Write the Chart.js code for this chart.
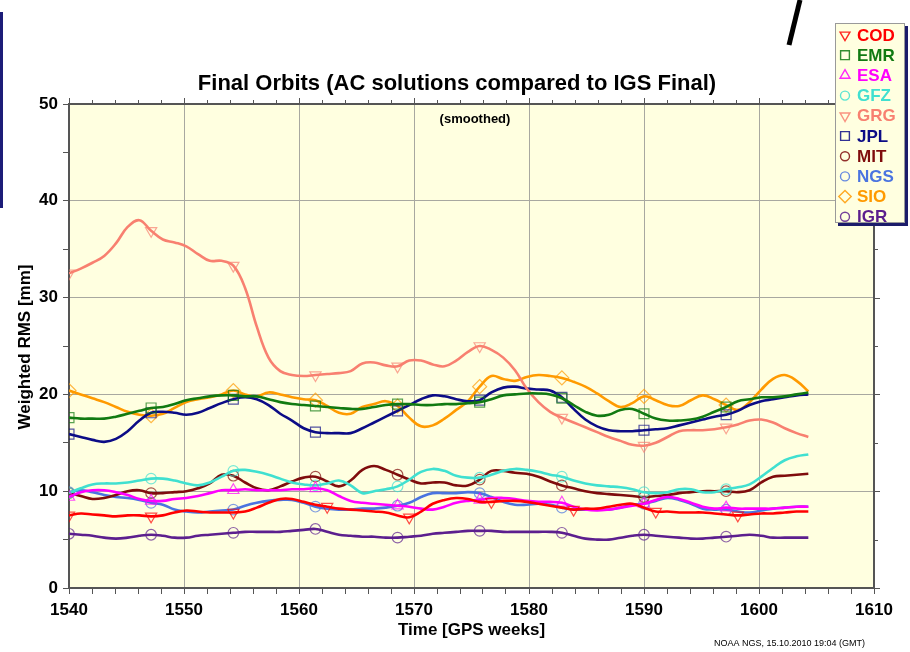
<!DOCTYPE html>
<html>
<head>
<meta charset="utf-8">
<script src="https://cdn.jsdelivr.net/npm/chart.js@4.4.0/dist/chart.umd.min.js"></script>
<style>
html, body { margin: 0; padding: 0; background: #fff; }
#wrap { width: 910px; height: 652px; }
</style>
</head>
<body>
<div id="wrap"><canvas id="orbits" width="910" height="652"></canvas></div>
<script>
// ......................  DATA  (weighted RMS in mm)  ......................

const weeks = [1540, 1541.02, 1542.04, 1543.06, 1544.08, 1545.10, 1546.12, 1547.14, 1548.16, 1549.18,
    1550.20, 1551.22, 1552.24, 1553.27, 1554.29, 1555.31, 1556.33, 1557.35, 1558.37, 1559.39,
    1560.41, 1561.43, 1562.45, 1563.47, 1564.49, 1565.51, 1566.53, 1567.55, 1568.57, 1569.59,
    1570.61, 1571.63, 1572.65, 1573.67, 1574.69, 1575.71, 1576.73, 1577.76, 1578.78, 1579.80,
    1580.82, 1581.84, 1582.86, 1583.88, 1584.90, 1585.92, 1586.94, 1587.96, 1588.98, 1590.00,
    1591.02, 1592.04, 1593.06, 1594.08, 1595.10, 1596.12, 1597.14, 1598.16, 1599.18, 1600.20,
    1601.22, 1602.24, 1603.27, 1604.29];

const cod = [7.5, 7.7, 7.6, 7.5, 7.4, 7.5, 7.5, 7.4, 7.5, 7.8, 8.0, 7.9, 7.8, 7.8, 7.8, 7.9, 8.3, 8.8, 9.2, 9.2,
    8.9, 8.6, 8.4, 8.2, 8.1, 8.0, 7.9, 7.8, 7.5, 7.3, 7.9, 8.7, 9.1, 9.3, 9.2, 8.9, 8.9, 9.0, 9.0, 8.9,
    8.7, 8.5, 8.3, 8.1, 8.2, 8.2, 8.4, 8.6, 8.7, 8.3, 7.9, 7.9, 7.8, 7.8, 7.8, 7.7, 7.6, 7.5, 7.6, 7.7,
    7.7, 7.8, 7.9, 7.9];
const emr = [17.6, 17.5, 17.5, 17.5, 17.7, 18.0, 18.3, 18.6, 18.7, 19.0, 19.4, 19.6, 19.8, 19.9, 19.9, 19.8, 19.8, 19.5, 19.2, 19.0,
    18.9, 18.8, 18.7, 18.6, 18.5, 18.5, 18.7, 18.9, 19.0, 19.0, 18.9, 18.9, 19.0, 19.0, 19.1, 19.2, 19.5, 19.9, 20.0, 20.1,
    20.1, 20.0, 19.6, 18.9, 18.2, 17.8, 17.9, 18.4, 18.5, 18.0, 17.5, 17.3, 17.3, 17.4, 17.7, 18.2, 18.7, 19.3, 19.5, 19.7,
    19.7, 19.8, 20.0, 20.2];
const esa = [9.4, 9.9, 10.1, 10.1, 9.9, 9.6, 9.2, 9.0, 9.0, 9.2, 9.3, 9.5, 9.8, 10.1, 10.1, 10.2, 10.1, 10.1, 10.1, 10.2,
    10.2, 10.3, 10.1, 9.5, 9.0, 8.8, 8.7, 8.6, 8.5, 8.4, 8.2, 8.1, 8.4, 8.8, 9.0, 9.1, 9.3, 9.3, 9.2, 9.0,
    8.9, 8.9, 8.8, 8.4, 8.1, 8.0, 8.1, 8.3, 8.5, 8.7, 9.1, 9.4, 9.2, 8.8, 8.4, 8.2, 8.3, 8.2, 8.2, 8.2,
    8.2, 8.3, 8.4, 8.4];
const gfz = [9.8, 10.3, 10.7, 10.8, 10.8, 10.9, 11.1, 11.3, 11.3, 11.1, 10.8, 10.6, 10.9, 11.5, 12.1, 12.2, 12.0, 11.7, 11.3, 10.9,
    10.7, 10.6, 10.8, 11.1, 10.6, 9.8, 10.0, 10.2, 10.5, 11.2, 12.0, 12.3, 12.1, 11.6, 11.4, 11.4, 11.7, 12.1, 12.3, 12.2,
    12.0, 11.7, 11.5, 11.1, 10.8, 10.6, 10.5, 10.4, 10.2, 9.9, 9.8, 9.9, 10.2, 10.2, 9.9, 9.9, 10.2, 10.4, 10.7, 11.5,
    12.4, 13.2, 13.6, 13.8];
const grg = [32.5, 33.0, 33.6, 34.3, 35.6, 37.3, 38.0, 36.9, 36.0, 35.7, 35.3, 34.5, 33.8, 33.8, 33.3, 31.0, 27.0, 23.8, 22.4, 22.0,
    21.9, 22.0, 22.1, 22.2, 22.4, 23.2, 23.3, 23.0, 22.9, 23.5, 23.5, 23.1, 22.9, 23.5, 24.4, 25.0, 24.6, 23.8, 22.5, 20.6,
    19.2, 18.2, 17.6, 17.1, 16.6, 16.1, 15.6, 15.2, 14.8, 14.7, 15.0, 15.6, 16.2, 16.3, 16.3, 16.4, 16.6, 16.9, 17.3, 17.4,
    17.1, 16.5, 16.0, 15.6];
const jpl = [15.9, 15.6, 15.3, 15.1, 15.4, 16.2, 17.3, 18.1, 18.2, 18.1, 17.9, 18.1, 18.6, 19.1, 19.5, 19.7, 19.5, 18.9, 18.0, 17.3,
    16.5, 16.1, 16.0, 16.0, 16.0, 16.5, 17.1, 17.7, 18.3, 18.9, 19.5, 19.9, 19.8, 19.5, 19.3, 19.4, 20.2, 20.7, 20.8, 20.6,
    20.5, 20.4, 19.7, 18.5, 17.4, 16.7, 16.3, 16.2, 16.2, 16.3, 16.4, 16.5, 16.8, 17.1, 17.4, 17.7, 17.9, 18.3, 18.9, 19.3,
    19.5, 19.7, 19.9, 20.0];
const mit = [9.8, 9.5, 9.2, 9.3, 9.6, 10.0, 10.1, 9.8, 9.8, 9.9, 10.0, 10.3, 10.8, 11.7, 11.6, 10.9, 10.3, 10.1, 10.5, 11.0,
    11.4, 11.5, 11.0, 10.5, 11.1, 12.2, 12.6, 12.2, 11.7, 11.2, 10.8, 10.9, 10.9, 10.6, 10.6, 11.2, 12.1, 12.1, 11.9, 11.8,
    11.5, 11.0, 10.6, 10.3, 10.0, 9.8, 9.7, 9.6, 9.5, 9.4, 9.5, 9.6, 9.8, 9.9, 10.0, 10.0, 10.0, 9.9, 10.1, 10.9,
    11.5, 11.6, 11.7, 11.8];
const ngs = [9.9, 10.1, 9.9, 9.6, 9.4, 9.3, 9.1, 8.8, 8.6, 8.1, 7.9, 7.8, 7.9, 8.0, 8.1, 8.5, 8.8, 9.0, 9.1, 9.1,
    8.8, 8.4, 8.2, 8.1, 8.1, 8.2, 8.2, 8.3, 8.5, 8.8, 9.4, 9.8, 9.8, 9.8, 9.9, 9.8, 9.4, 8.9, 8.6, 8.6,
    8.7, 8.6, 8.3, 8.1, 8.1, 8.1, 8.1, 8.3, 8.6, 8.7, 9.0, 9.3, 9.1, 8.7, 8.2, 8.1, 8.1, 7.9, 7.8, 8.0,
    8.2, 8.3, 8.4, 8.4];
const sio = [20.4, 20.0, 19.6, 19.2, 18.7, 18.2, 17.9, 17.8, 18.0, 18.6, 19.2, 19.5, 19.7, 20.0, 20.4, 20.0, 19.8, 20.2, 20.0, 19.7,
    19.5, 19.4, 18.8, 18.1, 18.0, 18.7, 19.0, 19.3, 18.8, 17.6, 16.7, 16.8, 17.5, 18.4, 19.3, 20.8, 21.9, 21.6, 21.4, 21.8,
    22.0, 21.9, 21.7, 21.3, 20.8, 20.1, 19.3, 18.7, 19.1, 19.8, 19.4, 18.9, 18.8, 19.4, 19.9, 19.5, 18.9, 18.4, 19.2, 20.5,
    21.6, 22.0, 21.4, 20.3];
const igr = [5.6, 5.5, 5.4, 5.2, 5.1, 5.2, 5.4, 5.5, 5.4, 5.2, 5.2, 5.4, 5.5, 5.6, 5.7, 5.8, 5.8, 5.8, 5.8, 5.9,
    6.0, 6.1, 5.8, 5.5, 5.4, 5.3, 5.3, 5.2, 5.2, 5.3, 5.4, 5.6, 5.7, 5.8, 5.9, 5.9, 5.9, 5.8, 5.8, 5.8,
    5.8, 5.8, 5.7, 5.4, 5.1, 5.0, 5.0, 5.2, 5.4, 5.5, 5.4, 5.3, 5.2, 5.1, 5.1, 5.2, 5.3, 5.4, 5.5, 5.4,
    5.2, 5.2, 5.2, 5.2];

const names = ['COD', 'EMR', 'ESA', 'GFZ', 'GRG', 'JPL', 'MIT', 'NGS', 'SIO', 'IGR'];
const series = [cod, emr, esa, gfz, grg, jpl, mit, ngs, sio, igr];
const colors = ['#ff0000', '#117a11', '#ff00ff', '#40e0d0', '#f88070', '#0c0c86', '#7f0c0c', '#4a74e0', '#ff9a00', '#5c1f8e'];
const markerStyles = ['triangle', 'rect', 'triangle', 'circle', 'triangle', 'rect', 'circle', 'circle', 'rectRot', 'circle'];
const markerTurn = [180, 0, 0, 0, 180, 0, 0, 0, 0, 0];
const markAt = [0, 7, 14, 21, 28, 35, 42, 49, 56];
const markAtCod = [0, 7, 14, 22, 29, 36, 43, 50, 57];

const xTicks = [1540, 1550, 1560, 1570, 1580, 1590, 1600, 1610];
const yTicks = [0, 10, 20, 30, 40, 50];

const FONT = '"Liberation Sans", Arial, sans-serif';
const markerSize = { triangle: 6.5, rect: 7, rectRot: 7, circle: 5.3 };

function fade(hex, a) {
    const n = parseInt(hex.slice(1), 16);
    return 'rgba(' + (n >> 16) + ',' + ((n >> 8) & 255) + ',' + (n & 255) + ',' + a + ')';
}

const datasets = names.map(function (name, i) {
    const marks = name === 'COD' ? markAtCod : markAt;
    return {
        label: name,
        data: series[i].map(function (v, j) { return { x: weeks[j], y: v }; }),
        borderColor: colors[i],
        borderWidth: 2.6,
        tension: 0.4,
        fill: false,
        pointStyle: markerStyles[i],
        rotation: markerTurn[i],
        pointBackgroundColor: 'rgba(0,0,0,0)',
        pointBorderColor: fade(colors[i], 0.7),
        pointBorderWidth: 1.2,
        pointRadius: function (c) { return marks.includes(c.dataIndex) ? markerSize[markerStyles[i]] : 0; },
        pointHoverRadius: 0
    };
});

// background, frame, texts, legend box and the slide leftovers
const decor = {
    id: 'decor',
    beforeDraw(chart) {
        const { ctx, chartArea: a } = chart;
        ctx.save();
        ctx.fillStyle = '#ffffff';
        ctx.fillRect(0, 0, chart.width, chart.height);
        ctx.fillStyle = '#ffffe0';
        ctx.fillRect(a.left, a.top, a.right - a.left, a.bottom - a.top);
        ctx.restore();
    },
    afterDraw(chart) {
        const { ctx, chartArea: a } = chart;
        const xs = chart.scales.x, ys = chart.scales.y;
        ctx.save();

        // top and right frame with outside ticks
        ctx.strokeStyle = '#555';
        ctx.lineWidth = 2;
        ctx.beginPath();
        ctx.moveTo(a.left, a.top); ctx.lineTo(a.right, a.top); ctx.lineTo(a.right, a.bottom);
        ctx.stroke();
        ctx.lineWidth = 1;
        ctx.beginPath();
        for (let w = 1540; w <= 1610; w += 2) {
            const px = Math.round(xs.getPixelForValue(w)) + 0.5;
            ctx.moveTo(px, a.top); ctx.lineTo(px, a.top - (w % 10 === 0 ? 6 : 4));
        }
        for (let v = 0; v <= 50; v += 5) {
            const py = Math.round(ys.getPixelForValue(v)) + 0.5;
            ctx.moveTo(a.right, py); ctx.lineTo(a.right + (v % 10 === 0 ? 6 : 4), py);
        }
        ctx.stroke();

        // texts
        ctx.fillStyle = '#000';
        ctx.textAlign = 'center';
        ctx.textBaseline = 'middle';
        ctx.font = 'bold 22px ' + FONT;
        ctx.fillText('Final Orbits (AC solutions compared to IGS Final)', 457, 84);
        ctx.font = 'bold 13px ' + FONT;
        ctx.fillText('(smoothed)', 475, 119);
        ctx.font = 'bold 17px ' + FONT;
        ctx.fillText('Time [GPS weeks]', (a.left + a.right) / 2, 630);
        ctx.save();
        ctx.translate(25, 347);
        ctx.rotate(-Math.PI / 2);
        ctx.fillText('Weighted RMS [mm]', 0, 0);
        ctx.restore();
        ctx.font = '9px ' + FONT;
        ctx.textAlign = 'left';
        ctx.fillText('NOAA NGS, 15.10.2010 19:04 (GMT)', 714, 644);

        // left navy bar and black stroke from the slide
        ctx.fillStyle = '#1c1c78';
        ctx.fillRect(0, 12, 3, 196);
        ctx.strokeStyle = '#000';
        ctx.lineWidth = 5;
        ctx.beginPath();
        ctx.moveTo(800, 0); ctx.lineTo(789, 45);
        ctx.stroke();

        // legend box
        const bx = 835, by = 23, bw = 70, bh = 200;
        ctx.fillStyle = '#1c1c6a';
        ctx.fillRect(bx + 3, by + 3, bw, bh);
        ctx.fillStyle = '#ffffe0';
        ctx.fillRect(bx, by, bw, bh);
        ctx.strokeStyle = '#9a9a9a';
        ctx.lineWidth = 1;
        ctx.strokeRect(bx + 0.5, by + 0.5, bw - 1, bh - 1);
        ctx.font = 'bold 17px ' + FONT;
        ctx.textBaseline = 'middle';
        names.forEach(function (name, i) {
            const cy = 35 + i * 20.2;
            ctx.strokeStyle = fade(colors[i], 0.85);
            ctx.fillStyle = 'rgba(0,0,0,0)';
            ctx.lineWidth = 1.4;
            Chart.helpers.drawPoint(ctx, {
                pointStyle: markerStyles[i],
                rotation: markerTurn[i],
                radius: markerSize[markerStyles[i]] - 0.8,
                borderWidth: 1.4
            }, 845, cy);
            ctx.fillStyle = colors[i];
            ctx.textAlign = 'left';
            ctx.fillText(name, 857, cy + 1);
        });
        ctx.restore();
    }
};

const chart = new Chart(document.getElementById('orbits'), {
    type: 'line',
    data: { datasets: datasets },
    options: {
        responsive: false,
        animation: false,
        events: [],
        layout: { padding: { top: 104, right: 36, left: 0, bottom: 0 } },
        plugins: { legend: { display: false }, title: { display: false }, tooltip: { enabled: false } },
        scales: {
            x: {
                type: 'linear',
                min: 1540,
                max: 1610,
                afterFit: function (s) { s.height = 64; },
                ticks: {
                    stepSize: 2,
                    autoSkip: false,
                    maxRotation: 0,
                    padding: 6,
                    color: '#000',
                    font: { family: FONT, size: 17, weight: 'bold' },
                    callback: function (v) { return xTicks.includes(v) ? String(v) : ''; }
                },
                grid: {
                    color: function (c) { return c.tick && xTicks.includes(c.tick.value) ? '#a8a8a0' : 'rgba(0,0,0,0)'; },
                    tickColor: '#555',
                    tickLength: 6,
                    lineWidth: 1
                },
                border: { color: '#555', width: 2 }
            },
            y: {
                min: 0,
                max: 50,
                afterFit: function (s) { s.width = 69; },
                ticks: {
                    stepSize: 5,
                    autoSkip: false,
                    padding: 5,
                    color: '#000',
                    font: { family: FONT, size: 17, weight: 'bold' },
                    callback: function (v) { return yTicks.includes(v) ? String(v) : ''; }
                },
                grid: {
                    color: function (c) { return c.tick && yTicks.includes(c.tick.value) ? '#a8a8a0' : 'rgba(0,0,0,0)'; },
                    tickColor: '#555',
                    tickLength: 6,
                    lineWidth: 1
                },
                border: { color: '#555', width: 2 }
            }
        }
    },
    plugins: [decor]
});
</script>
</body>
</html>
